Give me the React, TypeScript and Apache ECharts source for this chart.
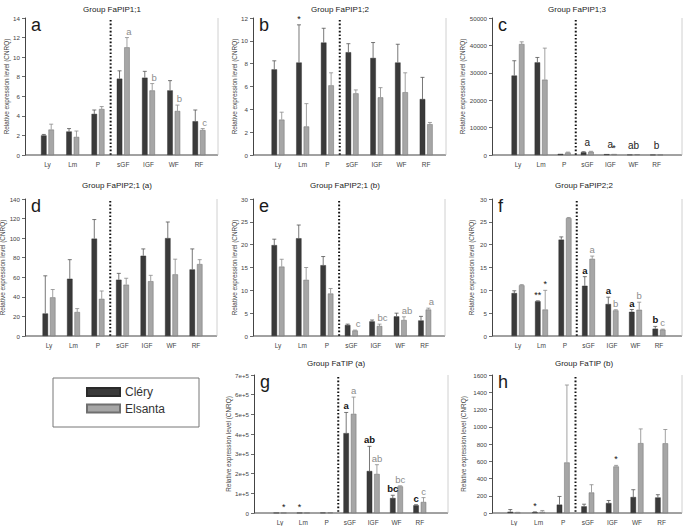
import React, { useEffect, useRef } from 'react';
import * as echarts from 'echarts';

const FONT = '"Liberation Sans", Arial, Helvetica, sans-serif';

const categories = ['Ly', 'Lm', 'P', 'sGF', 'IGF', 'WF', 'RF'];
const seriesNames = ['Cléry', 'Elsanta'];
const yAxisName = 'Relative expression level (CNRQ)';

// a: Group FaPIP1;1
const aClery = [2.0, 2.4, 4.2, 7.8, 7.9, 6.6, 3.45];
const aCleryErr = [0.1, 0.3, 0.4, 0.8, 0.65, 1.0, 1.15];
const aElsanta = [2.6, 1.85, 4.7, 11.0, 6.6, 4.5, 2.55];
const aElsantaErr = [0.55, 0.6, 0.25, 1.0, 0.7, 0.6, 0.15];
const aNotesClery = ['', '', '', '', '', '', ''];
const aNotesElsanta = ['', '', '', 'a', 'b', 'b', 'c'];

// b: Group FaPIP1;2
const bClery = [7.5, 8.1, 9.85, 9.0, 8.5, 8.1, 4.9];
const bCleryErr = [0.75, 3.3, 1.25, 0.75, 1.35, 1.6, 1.9];
const bElsanta = [3.1, 2.5, 6.1, 5.4, 5.05, 5.5, 2.7];
const bElsantaErr = [0.65, 2.0, 1.1, 0.3, 0.85, 1.7, 0.15];
const bNotesClery = ['', '*', '', '', '', '', ''];
const bNotesElsanta = ['', '', '', '', '', '', ''];

// c: Group FaPIP1;3
const cClery = [29000, 33800, 400, 1000, 300, 100, 50];
const cCleryErr = [5400, 1800, 100, 200, 50, 30, 10];
const cElsanta = [40500, 27500, 900, 1200, 350, 250, 60];
const cElsantaErr = [800, 11500, 150, 150, 50, 50, 10];
const cNotesClery = ['', '', '', '', '', '', ''];
const cNotesElsanta = ['', '', '', '', '*', '', ''];
const cNotesPair = ['', '', '', 'a', 'a', 'ab', 'b'];

// d: Group FaPIP2;1 (a)
const dClery = [23, 58.5, 99.5, 57.5, 82, 100, 68];
const dCleryErr = [38.5, 19.5, 19.5, 6.5, 7, 16.5, 21];
const dElsanta = [39.5, 24.5, 38, 52.5, 56, 63, 73.5];
const dElsantaErr = [8, 3.5, 8, 6.5, 6, 15.5, 4.5];
const dNotesClery = ['', '', '', '', '', '', ''];
const dNotesElsanta = ['', '', '', '', '', '', ''];

// e: Group FaPIP2;1 (b)
const eClery = [19.9, 21.4, 15.5, 2.4, 3.2, 4.3, 3.4];
const eCleryErr = [1.3, 2.9, 1.9, 0.2, 0.3, 0.7, 0.9];
const eElsanta = [15.2, 12.3, 9.3, 1.2, 2.2, 3.5, 5.8];
const eElsantaErr = [1.6, 2.7, 1.1, 0.1, 0.4, 0.7, 0.3];
const eNotesClery = ['', '', '', '', '', '', ''];
const eNotesElsanta = ['', '', '', 'c', 'bc', 'ab', 'a'];

// f: Group FaPIP2;2
const fClery = [9.4, 7.6, 21.1, 11.0, 7.0, 5.3, 1.6];
const fCleryErr = [0.5, 0.1, 0.6, 2.0, 1.5, 0.5, 0.5];
const fElsanta = [11.1, 5.8, 25.8, 16.9, 5.6, 5.75, 1.4];
const fElsantaErr = [0.15, 4.2, 0.15, 0.6, 0.15, 1.65, 0.1];
const fNotesClery = ['', '**', '', 'a', 'a', 'a', 'b'];
const fNotesElsanta = ['', '*', '', 'a', 'b', 'b', 'c'];

// g: Group FaTIP (a)
const gClery = [500, 500, 1500, 405000, 213000, 76000, 39000];
const gCleryErr = [0, 0, 500, 105000, 125000, 14000, 3000];
const gElsanta = [500, 500, 2500, 503000, 198000, 135000, 56000];
const gElsantaErr = [0, 0, 500, 85000, 47000, 3000, 22000];
const gNotesClery = ['', '*', '', 'a', 'ab', 'bc', 'c'];
const gNotesElsanta = ['*', '', '', 'a', 'ab', 'bc', 'c'];

// h: Group FaTIP (b)
const hClery = [15, 8, 97, 77, 115, 185, 180];
const hCleryErr = [25, 5, 95, 25, 30, 85, 32];
const hElsanta = [4, 14, 586, 238, 540, 810, 808];
const hElsantaErr = [4, 15, 898, 90, 12, 165, 160];
const hNotesClery = ['', '*', '', '', '', '', ''];
const hNotesElsanta = ['', '', '', '', '*', '', ''];

const panelTitles = [
  'Group FaPIP1;1', 'Group FaPIP1;2', 'Group FaPIP1;3',
  'Group FaPIP2;1 (a)', 'Group FaPIP2;1 (b)', 'Group FaPIP2;2',
  'Group FaTIP (a)', 'Group FaTIP (b)',
];
const panelLetters = ['a', 'b', 'c', 'd', 'e', 'f', 'g', 'h'];
const yMaxes = [14, 12, 50000, 140, 30, 30, 700000, 1600];
const yIntervals = [2, 2, 10000, 20, 5, 5, 100000, 200];

const cleryData = [aClery, bClery, cClery, dClery, eClery, fClery, gClery, hClery];
const cleryErrData = [aCleryErr, bCleryErr, cCleryErr, dCleryErr, eCleryErr, fCleryErr, gCleryErr, hCleryErr];
const elsantaData = [aElsanta, bElsanta, cElsanta, dElsanta, eElsanta, fElsanta, gElsanta, hElsanta];
const elsantaErrData = [aElsantaErr, bElsantaErr, cElsantaErr, dElsantaErr, eElsantaErr, fElsantaErr, gElsantaErr, hElsantaErr];
const notesClery = [aNotesClery, bNotesClery, cNotesClery, dNotesClery, eNotesClery, fNotesClery, gNotesClery, hNotesClery];
const notesElsanta = [aNotesElsanta, bNotesElsanta, cNotesElsanta, dNotesElsanta, eNotesElsanta, fNotesElsanta, gNotesElsanta, hNotesElsanta];

// layout (pixels), not data
const layouts = [
  { axisX: 25, first: 47.5, step: 25.25, right: 218, top: 18, bottom: 155, titleX: 112, titleY: 9, nameGap: 15.3, noteDx: 2 },
  { axisX: 253, first: 278, step: 24.7, right: 446, top: 18, bottom: 155, titleX: 340, titleY: 9, nameGap: 14.3, noteDx: 0 },
  { axisX: 492, first: 518, step: 23.1, right: 682, top: 18, bottom: 155, titleX: 577, titleY: 9, nameGap: 25.3, noteDx: 0 },
  { axisX: 25, first: 49, step: 24.5, right: 217, top: 199, bottom: 336, titleX: 117, titleY: 185, nameGap: 15.3, noteDx: 0 },
  { axisX: 253, first: 278, step: 24.45, right: 445, top: 199, bottom: 336, titleX: 345, titleY: 185, nameGap: 14.3, noteDx: 3 },
  { axisX: 492, first: 518, step: 23.5, right: 682, top: 199, bottom: 336, titleX: 584, titleY: 185, nameGap: 17.3, noteDx: 0 },
  { axisX: 254, first: 280, step: 23.3, right: 448, top: 375, bottom: 513, titleX: 336, titleY: 363, nameGap: 21.3, noteDx: 0 },
  { axisX: 492, first: 514, step: 24.6, right: 682, top: 375, bottom: 513, titleX: 584, titleY: 363, nameGap: 25.3, noteDx: 0 },
];

const DARK = '#3a3a3a';
const LIGHT = '#a6a6a6';
const AXIS = '#444';
const BW = 5.5;
const GAP = 0.35;
const OFF = (BW + BW * GAP) / 2;

function errSeries(i: number, values: number[], errs: number[], off: number, color: string) {
  return {
    type: 'custom',
    xAxisIndex: i,
    yAxisIndex: i,
    silent: true,
    z: 3,
    data: values.map((v, k) => [k, v, v + errs[k]]),
    renderItem: (_p: any, api: any) => {
      const k = api.value(0);
      const b = api.coord([k, api.value(1)]);
      const t = api.coord([k, api.value(2)]);
      if (Math.abs(b[1] - t[1]) < 0.3) return { type: 'group', children: [] };
      const x = b[0] + off;
      const st = { stroke: color, lineWidth: 0.8 };
      return {
        type: 'group',
        children: [
          { type: 'line', shape: { x1: x, y1: b[1], x2: x, y2: t[1] }, style: st },
          { type: 'line', shape: { x1: x - 2, y1: t[1], x2: x + 2, y2: t[1] }, style: st },
        ],
      };
    },
  };
}

function noteSeries(i: number, notes: string[], anchors: number[], off: number, color: string, bold: boolean, gap: number, size: number) {
  const data: number[][] = [];
  notes.forEach((t, k) => {
    if (t) data.push([k, anchors[k], k]);
  });
  return {
    type: 'custom',
    xAxisIndex: i,
    yAxisIndex: i,
    silent: true,
    z: 5,
    data,
    renderItem: (_p: any, api: any) => {
      const k = api.value(0);
      const p = api.coord([k, api.value(1)]);
      const t = notes[api.value(2)];
      const star = t.indexOf('*') >= 0;
      return {
        type: 'text',
        x: p[0] + off,
        y: p[1] - gap,
        style: {
          text: t,
          fill: star ? '#111' : color,
          fontSize: star ? 9 : size,
          fontWeight: bold && !star ? 'bold' : 'normal',
          fontFamily: FONT,
          align: 'center',
          verticalAlign: 'bottom',
        },
      };
    },
  };
}

function buildOption() {
  const grid: any[] = [];
  const xAxis: any[] = [];
  const yAxis: any[] = [];
  const series: any[] = [];
  const graphic: any[] = [];

  layouts.forEach((l, i) => {
    const gridLeft = l.first - l.step / 2;
    grid.push({
      left: gridLeft,
      top: l.top,
      width: l.step * 7,
      height: l.bottom - l.top,
      outerBoundsMode: 'none',
      containLabel: false,
    });
    xAxis.push({
      type: 'category',
      gridIndex: i,
      data: categories,
      axisLine: { show: false },
      axisTick: { show: false },
      axisLabel: { interval: 0, fontSize: 6.5, color: '#444', margin: 6, fontFamily: FONT },
      splitLine: { show: false },
    });
    yAxis.push({
      type: 'value',
      gridIndex: i,
      min: 0,
      max: yMaxes[i],
      interval: yIntervals[i],
      offset: gridLeft - l.axisX,
      axisLine: { show: true, lineStyle: { color: AXIS, width: 1 } },
      axisTick: { show: true, length: 3, lineStyle: { color: AXIS, width: 0.8 } },
      axisLabel: {
        fontSize: 6.2,
        color: '#444',
        margin: 5,
        fontFamily: FONT,
        formatter: i === 6
          ? (v: number) => (v === 0 ? '0' : `${Math.round(v / 100000)}e+5`)
          : (v: number) => String(v),
      },
      splitLine: { show: false },
      name: yAxisName,
      nameLocation: 'middle',
      nameGap: l.nameGap,
      nameTextStyle: { fontSize: 6.4, color: '#444', fontFamily: FONT },
    });

    const cv = cleryData[i];
    const ce = cleryErrData[i];
    const ev = elsantaData[i];
    const ee = elsantaErrData[i];
    series.push({
      type: 'bar',
      name: seriesNames[0],
      xAxisIndex: i,
      yAxisIndex: i,
      data: cv,
      barWidth: BW,
      barGap: `${GAP * 100}%`,
      silent: true,
      itemStyle: { color: DARK, borderColor: '#2a2a2a', borderWidth: 0.4 },
    });
    series.push({
      type: 'bar',
      name: seriesNames[1],
      xAxisIndex: i,
      yAxisIndex: i,
      data: ev,
      barWidth: BW,
      barGap: `${GAP * 100}%`,
      silent: true,
      itemStyle: { color: LIGHT, borderColor: '#6f6f6f', borderWidth: 0.5 },
    });
    series.push(errSeries(i, cv, ce, -OFF, '#555'));
    series.push(errSeries(i, ev, ee, OFF, '#8a8a8a'));

    const cAnch = cv.map((v, k) => v + ce[k]);
    const eAnch = ev.map((v, k) => v + ee[k]);
    const darkBold = i === 5 || i === 6;
    series.push(noteSeries(i, notesClery[i], cAnch, -OFF, '#111', darkBold, 1.5, 9.5));
    series.push(noteSeries(i, notesElsanta[i], eAnch, OFF + l.noteDx, '#8c8c8c', false, 1.5, 9.5));
    if (i === 2) {
      const pAnch = cAnch.map((v, k) => Math.max(v, eAnch[k]));
      series.push(noteSeries(i, cNotesPair, pAnch, 0, '#222', false, 4, 10));
    }

    const sepX = gridLeft + 3 * l.step;
    graphic.push(
      { type: 'line', silent: true, shape: { x1: l.axisX, y1: l.bottom, x2: l.right, y2: l.bottom }, style: { stroke: AXIS, lineWidth: 1 } },
      { type: 'line', silent: true, shape: { x1: l.right, y1: l.top, x2: l.right, y2: l.bottom }, style: { stroke: '#c4c4c4', lineWidth: 0.8 } },
      { type: 'line', silent: true, shape: { x1: sepX, y1: l.top + 2, x2: sepX, y2: l.bottom }, style: { stroke: '#111', lineWidth: 2, lineDash: [1.6, 2] } },
      {
        type: 'text', silent: true, x: l.axisX + 6, y: l.top + 7,
        style: { text: panelLetters[i], fontSize: 18, fill: '#1a1a1a', fontFamily: FONT, align: 'left', verticalAlign: 'middle' },
      },
      {
        type: 'text', silent: true, x: l.titleX, y: l.titleY,
        style: { text: panelTitles[i], fontSize: 8, fill: '#222', fontFamily: FONT, align: 'center', verticalAlign: 'middle' },
      },
    );
  });

  graphic.push({
    type: 'rect', silent: true,
    shape: { x: 53, y: 378, width: 146, height: 49 },
    style: { fill: 'none', stroke: '#777', lineWidth: 1 },
  });

  return {
    animation: false,
    backgroundColor: '#ffffff',
    textStyle: { fontFamily: FONT },
    grid,
    xAxis,
    yAxis,
    series,
    graphic,
    legend: {
      data: seriesNames,
      orient: 'vertical',
      left: 86,
      top: 386,
      itemWidth: 33,
      itemHeight: 8,
      itemGap: 4.5,
      padding: 0,
      icon: 'rect',
      selectedMode: false,
      textStyle: { fontSize: 12, color: '#333', fontFamily: FONT },
    },
  };
}

export default function App() {
  const ref = useRef<HTMLDivElement>(null);
  useEffect(() => {
    if (!ref.current) return;
    const chart = echarts.init(ref.current, null, { renderer: 'svg' });
    chart.setOption(buildOption() as any);
    return () => {
      chart.dispose();
    };
  }, []);
  return (
    <div
      ref={ref}
      style={{ position: 'fixed', left: 0, top: 0, width: 685, height: 526, background: '#fff' }}
    />
  );
}
